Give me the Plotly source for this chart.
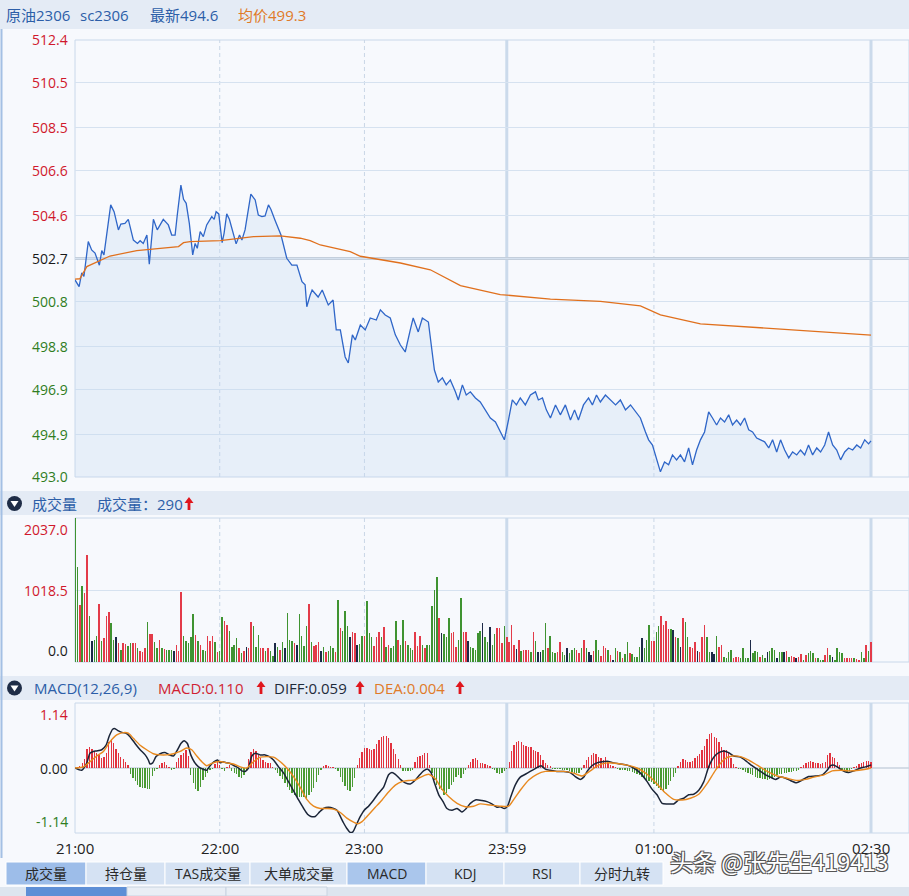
import plotly.graph_objects as go

W, H = 909, 896
def px(x): return x / W
def py(y): return 1 - y / H

FONT = "Open Sans, Noto Sans CJK SC, sans-serif"

# ---------------- data ----------------
TIME_TICKS = [0, 60, 120, 179, 240, 330]
TIME_LABELS = ["21:00", "22:00", "23:00", "23:59", "01:00", "02:30"]
PRICE_TICKS = [512.4, 510.5, 508.5, 506.6, 504.6, 502.7, 500.8, 498.8, 496.9, 494.9, 493.0]
PREV_SETTLE = 502.7
VOL_TICKS = [2037.0, 1018.5, 0.0]
MACD_TICKS = [1.14, 0.00, -1.14]
LAST_MINUTE = 330

PRICE_POINTS = [
    (0, 501.75), (1.7, 501.45), (2.8, 502.06), (3.7, 501.9), (5.5, 503.45), (6.9, 503.08), (8.3, 502.94),
    (10.1, 502.4), (11.1, 503.05), (12, 502.86), (14.8, 505.08), (16.2, 504.78), (18, 503.97), (19, 504.23),
    (20.7, 504.26), (22.1, 504.44), (24.2, 503.52), (25.9, 503.37), (27, 503.49), (28.3, 503.37), (29.8, 503.74),
    (30.8, 502.45), (32.5, 504.44), (34.1, 503.97), (36.6, 504.44), (38.7, 504.19), (40.1, 503.74), (41.5, 503.74),
    (42.4, 504.63), (43.9, 505.96), (45, 505.33), (46.1, 505.15), (47.4, 504.26), (48.8, 502.86), (49.8, 503.37),
    (50.7, 503.15), (51.9, 503.89), (53.2, 503.67), (54.6, 504.19), (56.7, 504.56), (57.7, 504.44), (58.5, 504.78),
    (59.6, 504.68), (61, 503.40), (61.8, 503.82), (62.9, 504.68), (64, 504.44), (65.4, 503.89), (66.8, 503.35),
    (68.2, 503.74), (69.2, 503.52), (70.5, 503.97), (72.9, 505.56), (74.7, 505.30), (76, 504.63), (77.5, 504.56),
    (78.8, 504.59), (80.2, 505.08), (81.2, 504.89), (83, 504.38), (84.4, 504.0), (85.4, 503.74), (87.8, 502.71),
    (89.9, 502.41), (92, 502.41), (94.1, 501.67), (95.4, 501.53), (96.1, 500.56), (97.5, 501.08),
    (98.3, 501.30), (100.8, 500.99), (102.5, 501.30), (105.0, 500.64), (107.0, 500.86), (108.3, 499.53),
    (110.0, 499.53), (112.0, 498.33), (113.3, 498.06), (115.0, 499.31), (116.2, 499.08), (118.3, 499.75),
    (120.3, 499.53), (122.4, 500.06), (124.9, 499.97), (126.6, 500.42), (128.6, 500.19), (130.7, 500.06),
    (132.8, 499.31), (134.9, 498.86), (136.9, 498.55), (139.0, 499.53), (140.2, 500.06), (142.3, 499.44),
    (144.0, 500.06), (146.5, 499.88), (147.7, 498.86), (149.0, 497.75), (150.6, 497.22), (152.3, 497.40),
    (153.9, 497.09), (155.6, 497.31), (157.7, 496.78), (158.9, 496.42), (160.6, 497.09), (162.2, 496.64),
    (163.9, 496.78), (166.0, 496.51), (168.0, 496.33), (170.1, 495.98), (172.2, 495.62), (174.3, 495.44),
    (176.3, 495.00), (178.0, 494.65), (179.7, 495.53), (181.3, 496.42), (183.0, 496.20), (184.6, 496.51),
    (186.7, 496.20), (188.8, 496.64), (190.9, 496.78), (192.1, 496.42), (193.8, 496.51), (195.4, 495.98),
    (197.1, 495.62), (199.2, 496.20), (201.2, 495.76), (203.3, 496.20), (205.4, 495.53), (207.1, 495.98),
    (208.7, 495.53), (210.8, 496.20), (212.9, 496.51), (214.5, 496.20), (216.2, 496.64), (217.8, 496.33),
    (219.9, 496.64), (222.0, 496.42), (224.1, 496.20), (226.1, 496.42), (228.2, 495.98), (230.3, 496.20),
    (232.4, 495.89), (234.4, 495.62), (236.5, 495.00), (237.8, 494.65), (239.4, 494.42), (241.1, 493.85),
    (242.7, 493.23), (244.4, 493.67), (246.1, 493.54), (247.7, 493.98), (249.4, 493.76), (251.0, 493.98),
    (252.7, 493.67), (254.4, 494.29), (256.0, 493.54), (257.7, 494.20), (259.3, 494.65), (261.0, 495.00),
    (262.7, 495.89), (264.3, 495.62), (266.0, 495.31), (267.6, 495.62), (269.3, 495.44), (271.0, 495.76),
    (272.6, 495.31), (274.3, 495.53), (275.9, 495.31), (277.6, 495.62), (279.3, 495.09), (280.9, 495.00),
    (282.6, 494.73), (284.2, 494.65), (285.9, 494.56), (287.6, 494.29), (289.2, 494.65), (290.9, 494.11),
    (292.5, 494.65), (294.2, 494.20), (295.9, 493.85), (297.5, 494.11), (299.2, 493.98), (300.8, 494.20),
    (302.5, 493.98), (304.1, 494.42), (305.8, 493.98), (307.5, 494.29), (309.1, 494.11), (310.8, 494.42),
    (312.4, 495.00), (314.1, 494.42), (315.8, 494.20), (317.4, 493.76), (319.1, 494.11), (320.7, 494.29),
    (322.4, 494.20), (324.1, 494.42), (325.7, 494.29), (327.4, 494.65), (329.0, 494.47), (330.0, 494.60),
]

AVG_POINTS = [
    (0, 501.78), (2, 501.8), (4.9, 502.34), (8, 502.5), (14.5, 502.81), (25.6, 503.05), (42.9, 503.23),
    (45, 503.4), (47.7, 503.45), (60.2, 503.49), (74, 503.67), (85.1, 503.70), (93.4, 503.6), (97.5, 503.49),
    (101.7, 503.3), (114.1, 503.0), (118.3, 502.8), (134.9, 502.5), (147.3, 502.2), (159.8, 501.5),
    (176.3, 501.1), (197.1, 500.9), (217.8, 500.8), (234.4, 500.6), (242.7, 500.2), (259.3, 499.8),
    (280.1, 499.65), (300.8, 499.5), (330, 499.3),
]

VOLUME = [
    2037, 1340, 800, 1075, 970, 1520, 650, 300, 306, 368,
    815, 300, 335, 655, 712, 550, 310, 350, 265, 170,
    265, 250, 230, 265, 265, 265, 195, 155, 135, 195,
    560, 390, 390, 280, 195, 310, 195, 180, 170, 170,
    170, 155, 240, 155, 985, 370, 300, 265, 350, 675,
    380, 300, 240, 170, 155, 370, 300, 370, 280, 135,
    155, 630, 580, 530, 440, 210, 240, 335, 195, 125,
    155, 210, 195, 560, 510, 210, 380, 195, 195, 155,
    195, 155, 85, 265, 210, 170, 280, 195, 700, 310,
    300, 265, 240, 675, 370, 225, 510, 815, 280, 225,
    240, 280, 155, 210, 135, 155, 225, 195, 145, 875,
    475, 445, 720, 510, 350, 420, 405, 240, 255, 370,
    370, 860, 405, 350, 225, 350, 420, 350, 490, 210,
    240, 195, 225, 580, 310, 240, 595, 300, 240, 195,
    170, 420, 225, 370, 240, 195, 240, 240, 795, 1018,
    1200, 620, 405, 390, 350, 620, 405, 420, 210, 310,
    900, 420, 420, 300, 210, 195, 170, 405,
    440, 550, 350, 280, 490, 240, 390, 475, 475, 265,
    510, 350, 280, 530, 240, 180, 310, 155, 170, 170,
    170, 135, 420, 300, 145, 145, 170, 550, 195, 370,
    135, 125, 135, 280, 135, 100, 195, 125, 170, 205,
    170, 125, 195, 310, 205, 135, 100, 155, 310, 170,
    90, 225, 195, 170, 100, 30, 195, 155, 145, 50,
    110, 280, 125, 110, 75, 75, 210, 335, 195, 310,
    530, 300, 300, 420, 510, 650, 530, 580, 465, 465,
    450, 350, 335, 210, 620, 570, 350, 210, 195, 280,
    155, 135, 350, 530, 350, 145, 145, 110, 370, 210,
    240, 75, 60, 135, 170, 60, 75, 75, 60, 195,
    60, 60, 310, 125, 155, 135, 75, 100, 60, 135,
    155, 195, 170, 60, 135, 135, 135, 155, 75, 90,
    75, 60, 75, 110, 30, 100, 125, 155, 125, 60,
    60, 30, 30, 100, 205, 100, 75, 30, 195, 145,
    125, 50, 60, 60, 60, 60, 40, 30, 135, 60,
    240, 155, 290,
]
# R = up (red), G = down (green), D = flat (dark)
VOLUME_DIR = (
    "GGRGRRGDGG" "RGRRRGGDRG" "RRGGRRGRRR" "GRRGGRGRGG" "GDRRRGGGGG" "RGRGGRRRGR"
    "GGRRGGGGRG" "RDRRGGGRRG" "RGGDGRGDGG" "GRDGGGGRGR" "RRDGRGGGRG" "RGGGDRRDGG"
    "RGGGRRRGRG" "RGGGRGGRGG" "GRRRGRGGGG" "GRDGGGRRRG" "GRRDGGGG"
    "GDGGDGGRRR" "GRRRRDRGRR" "RGRGDDGGRG" "GGRRGGDGGG" "RRGRGDDRGG" "RRRGRDGRGR"
    "GGRGGGGDGG" "GRRGGRRRRG" "DRGDRGGRRR" "DRRRGGDDGR" "RGGGGRRRGG" "GGDGGGRGGD"
    "GGGDGGDRGR" "RDRRGRGGGR" "GGGRRGDGGG" "GRRRRGRRGG" "RGR"
)

MACD_HIST = [
    0.0, 0.02, 0.04, 0.08, 0.15, 0.34, 0.36, 0.33, 0.30, 0.27, 0.22, 0.17, 0.20, 0.27, 0.46, 0.50, 0.44, 0.34,
    0.27, 0.20, 0.15, 0.10, 0.05,
    -0.10, -0.17, -0.23, -0.29, -0.33, -0.35, -0.35, -0.36, -0.37, -0.14, -0.05, -0.01,
    0.05, 0.09, 0.11, 0.05, 0.01, -0.04, -0.01,
    0.10, 0.17, 0.23, 0.27, 0.32, 0.21,
    -0.12, -0.27, -0.36, -0.40, -0.34, -0.21, -0.15, -0.09, -0.04, -0.01,
    0.07, 0.11, 0.05, -0.02, -0.05, 0.02, 0.05,
    -0.05, -0.08, -0.11, -0.16, -0.18, -0.13, -0.06,
    0.15, 0.28, 0.33, 0.30, 0.22, 0.18, 0.14, 0.10, 0.09, 0.08, 0.02,
    -0.03, -0.08, -0.14, -0.20, -0.26, -0.33, -0.39, -0.44, -0.48, -0.50, -0.51, -0.50, -0.51, -0.53, -0.48,
    -0.42, -0.35, -0.25, -0.12, -0.03,
    0.04, 0.05, 0.03, 0.01, 0.01,
    -0.02, -0.06, -0.15, -0.24, -0.32, -0.39, -0.40, -0.34, -0.18,
    0.06, 0.18, 0.28, 0.35, 0.35, 0.33, 0.31, 0.34, 0.42, 0.49, 0.55, 0.56, 0.56, 0.52, 0.44, 0.34, 0.25, 0.15, 0.06,
    -0.06, -0.06, -0.05, -0.06, -0.04,
    0.10, 0.19, 0.21, 0.23, 0.26, 0.27, 0.05,
    -0.09, -0.21, -0.30, -0.36, -0.39, -0.47, -0.44, -0.36, -0.30, -0.24, -0.16, -0.12, -0.18, -0.11, -0.04,
    0.06, 0.11, 0.15, 0.17, 0.14, 0.09, 0.08, 0.07, 0.05, 0.03,
    -0.02, -0.04, -0.08, -0.10, -0.09, -0.05, -0.02,
    0.10, 0.30, 0.40, 0.46, 0.48, 0.46, 0.41, 0.39, 0.37, 0.36, 0.32, 0.29, 0.28, 0.22, 0.14, 0.08, 0.05, 0.03,
    -0.01, -0.01, -0.02, -0.02, -0.03, -0.03, -0.04, -0.05, -0.07, -0.08, -0.09, -0.08, -0.04,
    0.06, 0.14, 0.19, 0.23, 0.26, 0.25, 0.20, 0.17, 0.14, 0.19, 0.11, 0.05, 0.03, 0.01,
    -0.02, -0.03, -0.03, -0.04, -0.05, -0.06, -0.07, -0.09, -0.10, -0.13, -0.15, -0.18, -0.21, -0.23, -0.25,
    -0.28, -0.31, -0.35, -0.39, -0.42, -0.37, -0.30, -0.22, -0.15, -0.08,
    0.04, 0.10, 0.15, 0.14, 0.11, 0.10, 0.13, 0.17, 0.21, 0.25, 0.32, 0.38, 0.50, 0.60, 0.61, 0.54, 0.52, 0.45,
    0.37, 0.32, 0.31, 0.27, 0.18, 0.07, 0.02,
    -0.01, -0.02, -0.04, -0.07, -0.09, -0.11, -0.12, -0.15, -0.17, -0.18, -0.19, -0.20, -0.21, -0.20, -0.18,
    -0.16, -0.13, -0.11, -0.10, -0.08, -0.08, -0.07, -0.07, -0.06, -0.05, -0.04,
    0.02, 0.05, 0.08, 0.11, 0.12, 0.10, 0.09, 0.08, 0.07, 0.08, 0.10, 0.23, 0.26, 0.20, 0.17, 0.11, 0.05,
    -0.03, -0.06, -0.07, -0.05, -0.02,
    0.02, 0.04, 0.07, 0.09, 0.11, 0.12, 0.12, 0.11,
]

DIFF_POINTS = [
    (0, 0), (2.8, -0.04), (4.8, 0.08), (6.2, 0.26), (7.6, 0.29), (9, 0.30), (11.1, 0.32), (12.9, 0.40),
    (14.2, 0.56), (15.6, 0.68), (16.6, 0.69), (18, 0.65), (19.8, 0.62), (21.2, 0.61), (22.8, 0.55), (24.9, 0.43),
    (27, 0.32), (29.1, 0.23), (30.4, 0.14), (31.1, 0.07), (32.2, 0.09), (33.6, 0.20), (35.3, 0.25), (37.3, 0.27),
    (39.1, 0.23), (40.8, 0.21), (42.5, 0.32), (43.9, 0.43), (45.2, 0.48), (46.6, 0.43), (48, 0.23), (49.4, 0.11),
    (51.2, 0.02), (53, -0.02), (54.6, -0.04), (56, 0.04), (57.7, 0.11), (59.1, 0.14), (60.2, 0.09), (61.3, 0.11),
    (62.9, 0.09), (64.3, 0.08), (66, 0.04), (67.8, 0.0), (69.2, -0.05), (70.5, -0.06), (71.9, 0.0), (73.3, 0.21),
    (74.7, 0.26), (76.8, 0.23), (78.8, 0.23), (80.6, 0.20), (82.3, 0.14), (84.4, 0.02), (86.5, -0.09),
    (88.5, -0.24), (90.6, -0.40), (92.7, -0.56), (94.8, -0.71), (96.4, -0.81), (97.8, -0.85), (99.6, -0.85),
    (101.4, -0.77), (103, -0.71), (105.1, -0.69), (107.2, -0.71), (108.6, -0.74), (110, -0.85), (111.3, -0.96),
    (112.7, -1.06), (114.1, -1.13), (115.2, -1.12), (116.6, -1.0), (118.3, -0.85), (119.9, -0.74),
    (121.7, -0.67), (123.8, -0.56), (125.9, -0.44), (127.9, -0.34), (130, -0.12), (131.4, -0.08),
    (132.8, -0.11), (134.9, -0.20), (136.9, -0.26), (139, -0.28), (141.1, -0.21), (142.9, -0.12),
    (144.5, -0.05), (146.2, -0.02), (147.6, -0.08), (149, -0.26), (150.8, -0.47), (152.6, -0.59),
    (154.2, -0.71), (156.3, -0.74), (158.4, -0.71), (160.4, -0.77), (162.2, -0.71), (163.9, -0.62),
    (166, -0.56), (168.7, -0.57), (170.8, -0.59), (172.8, -0.63), (174.9, -0.69), (176.3, -0.68),
    (178, -0.71), (179.3, -0.67), (180.7, -0.50), (182.5, -0.30), (184.6, -0.16), (186.7, -0.11),
    (188.7, -0.06), (190.8, -0.01), (193.2, 0.04), (195, -0.02), (197, -0.04), (199.8, -0.06), (202.6, -0.06),
    (205.3, -0.08), (207.4, -0.15), (209.5, -0.20), (210.9, -0.16), (212.3, -0.06), (214.3, 0.04),
    (216.4, 0.09), (218.5, 0.11), (220.6, 0.12), (223.3, 0.09), (226.1, 0.07), (228.9, 0.05), (231.6, 0.0),
    (234.4, -0.09), (237.2, -0.24), (239.2, -0.37), (241.3, -0.47), (243.4, -0.62), (245.5, -0.63),
    (248.2, -0.63), (250.3, -0.56), (252.4, -0.53), (254.4, -0.47), (256.5, -0.46), (258.6, -0.39),
    (260.7, -0.24), (262.7, 0.02), (264.8, 0.19), (266.9, 0.27), (269, 0.30), (271, 0.27), (273.1, 0.21),
    (275.9, 0.19), (278.6, 0.11), (280.7, 0.04), (283.5, -0.04), (286.3, -0.12), (288.3, -0.16),
    (290.4, -0.20), (292.5, -0.16), (294.6, -0.18), (296.6, -0.22), (299.1, -0.26), (301.5, -0.21),
    (304.2, -0.15), (307, -0.14), (309.8, -0.12), (311.8, -0.04), (313.2, 0.04), (314.7, 0.05), (316.7, 0.0),
    (318.8, -0.06), (320.8, -0.08), (322.9, -0.05), (325.7, 0.0), (327.7, 0.02), (329.8, 0.05), (330, 0.059),
]

DEA_POINTS = [
    (0, 0), (3.5, 0.02), (6.2, 0.11), (9, 0.21), (11.8, 0.29), (14.5, 0.46), (17.3, 0.58), (20.1, 0.62),
    (22.1, 0.61), (24.2, 0.52), (27, 0.40), (29.7, 0.32), (32.5, 0.25), (35.3, 0.23), (38, 0.23), (40.8, 0.25),
    (43.6, 0.29), (46.3, 0.35), (48.4, 0.32), (50.5, 0.21), (52.6, 0.11), (54.6, 0.04), (56.7, 0.08),
    (58.8, 0.11), (60.9, 0.11), (62.9, 0.09), (65.7, 0.07), (68.5, 0.02), (71.2, 0.0), (74, 0.11), (76.8, 0.19),
    (79.5, 0.20), (82.3, 0.19), (85.1, 0.11), (87.8, 0.0), (90.6, -0.15), (93.4, -0.34), (96.1, -0.55),
    (98.9, -0.67), (101.7, -0.71), (104.4, -0.71), (107.2, -0.72), (110, -0.78), (112.7, -0.88), (115.5, -0.95),
    (117.2, -0.98), (119, -0.94), (121.7, -0.82), (124.5, -0.69), (127.3, -0.56), (130, -0.42), (132.8, -0.30),
    (135.5, -0.24), (138.3, -0.22), (141.1, -0.21), (143.8, -0.15), (146.6, -0.11), (149.4, -0.19),
    (152.1, -0.37), (154.9, -0.50), (158.4, -0.62), (161.8, -0.68), (165.3, -0.67), (168, -0.63),
    (172.1, -0.65), (176.3, -0.67), (179.8, -0.67), (181.8, -0.56), (184.6, -0.39), (188.1, -0.21),
    (191.5, -0.11), (195, -0.06), (198.4, -0.06), (202.6, -0.06), (206.7, -0.09), (210.2, -0.14),
    (213.6, -0.05), (217.1, 0.05), (220.6, 0.09), (224.7, 0.08), (228.9, 0.05), (233, 0.0), (237.2, -0.11),
    (241.3, -0.28), (244.8, -0.44), (248.2, -0.55), (251.7, -0.56), (255.1, -0.53), (258.6, -0.46),
    (262.1, -0.27), (265.5, -0.04), (269, 0.15), (272.4, 0.21), (275.9, 0.20), (279.3, 0.14), (282.8, 0.05),
    (287, -0.06), (291.1, -0.14), (295.2, -0.18), (299.4, -0.22), (302.9, -0.20), (306.3, -0.16),
    (310.5, -0.12), (313.9, -0.05), (317.4, -0.04), (320.8, -0.05), (325, -0.04), (329.8, 0.0), (330, 0.004),
]

TAB_LABELS = ["成交量", "持仓量", "TAS成交量", "大单成交量", "MACD", "KDJ", "RSI", "分时九转"]

# ---------------- styling ----------------
BG = "#f7f9fd"
HEADER_BG = "#e4ebf5"
GRID = "#d6e2f0"
BORDER = "#c9d8ea"
RED = "#d0182c"
GREEN = "#2f7d22"
BLUE_TXT = "#2c5ea8"
ORANGE = "#e07a28"
X_END = LAST_MINUTE * (909 - 75) / (871 - 75)

fig = go.Figure()

pt = [p[0] for p in PRICE_POINTS]
pv = [p[1] for p in PRICE_POINTS]
fig.add_trace(go.Scatter(x=pt, y=pv, mode="lines", line=dict(color="#2f66c8", width=1.3),
                         fill="tozeroy", fillcolor="rgba(196,214,242,0.30)", xaxis="x", yaxis="y",
                         hoverinfo="skip"))
fig.add_trace(go.Scatter(x=[p[0] for p in AVG_POINTS], y=[p[1] for p in AVG_POINTS], mode="lines",
                         line=dict(color="#e0701d", width=1.3), xaxis="x", yaxis="y", hoverinfo="skip"))

vol_color_map = {"R": "#e33b49", "G": "#3f9331", "D": "#1d2a48"}
fig.add_trace(go.Bar(x=list(range(len(VOLUME))), y=VOLUME,
                     marker=dict(color=[vol_color_map[c] for c in VOLUME_DIR[:len(VOLUME)]], line=dict(width=0)),
                     width=0.62, xaxis="x2", yaxis="y2", hoverinfo="skip"))

fig.add_trace(go.Bar(x=list(range(len(MACD_HIST))), y=MACD_HIST,
                     marker=dict(color=["#e2333f" if v >= 0 else "#4a9a33" for v in MACD_HIST], line=dict(width=0)),
                     width=0.55, xaxis="x3", yaxis="y3", hoverinfo="skip"))
fig.add_trace(go.Scatter(x=[p[0] for p in DIFF_POINTS], y=[p[1] for p in DIFF_POINTS], mode="lines",
                         line=dict(color="#1b2538", width=1.5, shape="spline", smoothing=0.6),
                         xaxis="x3", yaxis="y3", hoverinfo="skip"))
fig.add_trace(go.Scatter(x=[p[0] for p in DEA_POINTS], y=[p[1] for p in DEA_POINTS], mode="lines",
                         line=dict(color="#e8891f", width=1.4, shape="spline", smoothing=0.6),
                         xaxis="x3", yaxis="y3", hoverinfo="skip"))

xcommon = dict(domain=[px(75), 1.0], range=[0, X_END], showgrid=False, zeroline=False,
               showticklabels=False, showline=False, fixedrange=True)
layout = dict(
    width=W, height=H, margin=dict(l=0, r=0, t=0, b=0),
    paper_bgcolor=BG, plot_bgcolor=BG, showlegend=False, bargap=0,
    font=dict(family=FONT, size=14, color="#222"),
    xaxis=dict(anchor="y", **xcommon),
    xaxis2=dict(anchor="y2", **xcommon),
    xaxis3=dict(anchor="y3", **xcommon),
    yaxis=dict(anchor="x", domain=[py(477), py(40)], range=[PRICE_TICKS[-1], PRICE_TICKS[0]],
               tickvals=PRICE_TICKS, showticklabels=False, showgrid=True, gridcolor=GRID, gridwidth=1,
               zeroline=False, fixedrange=True),
    yaxis2=dict(anchor="x2", domain=[py(662), py(518)], range=[0, VOL_TICKS[0]],
                tickvals=[VOL_TICKS[1]], showticklabels=False, showgrid=True, gridcolor=GRID,
                zeroline=False, fixedrange=True),
    yaxis3=dict(anchor="x3", domain=[py(833), py(703)], range=[MACD_TICKS[2], MACD_TICKS[0]],
                showticklabels=False, showgrid=False, zeroline=False, fixedrange=True),
)

shapes = []
ann = []

def prect(x0, y0, x1, y1, fill, line_color=None, lw=0, layer="below"):
    shapes.append(dict(type="rect", xref="paper", yref="paper", x0=px(x0), x1=px(x1), y0=py(y1), y1=py(y0),
                       fillcolor=fill, line=dict(color=line_color or fill, width=lw), layer=layer))

def ptext(x, y, text, color, size=15, anchor="left", family=FONT):
    ann.append(dict(xref="paper", yref="paper", x=px(x), y=py(y), text=text, showarrow=False,
                    xanchor=anchor, yanchor="middle", font=dict(size=size, color=color, family=family)))

def path_shape(points, fill):
    d = "M " + " L ".join(f"{px(a):.5f},{py(b):.5f}" for a, b in points) + " Z"
    shapes.append(dict(type="path", xref="paper", yref="paper", path=d, fillcolor=fill,
                       line=dict(width=0), layer="above"))

def up_arrow(cx, top):
    path_shape([(cx, top), (cx + 4.5, top + 6), (cx + 1.4, top + 6), (cx + 1.4, top + 13),
                (cx - 1.4, top + 13), (cx - 1.4, top + 6), (cx - 4.5, top + 6)], "#e0161d")

def toggle_icon(cx, cy):
    shapes.append(dict(type="circle", xref="paper", yref="paper", x0=px(cx - 7.5), x1=px(cx + 7.5),
                       y0=py(cy + 7.5), y1=py(cy - 7.5), fillcolor="#1f2d47", line=dict(width=0), layer="above"))
    path_shape([(cx - 4, cy - 2.5), (cx + 4, cy - 2.5), (cx, cy + 3.5)], "#ffffff")

# header bars
prect(0, 0, 909, 29, HEADER_BG)
prect(0, 491, 909, 515, HEADER_BG)
prect(0, 676, 909, 700, HEADER_BG)

# panel borders, grid extras
for xr, yr in (("x", "y"), ("x2", "y2"), ("x3", "y3")):
    shapes.append(dict(type="rect", xref=f"{xr} domain", yref=f"{yr} domain", x0=0, x1=1, y0=0, y1=1,
                       line=dict(color=BORDER, width=1), fillcolor="rgba(0,0,0,0)", layer="below"))
    for t in TIME_TICKS[1:]:
        solid = t in (179, LAST_MINUTE)
        shapes.append(dict(type="line", xref=xr, yref=f"{yr} domain", x0=t, x1=t, y0=0, y1=1,
                           line=dict(color="#cbdaeb" if solid else "#c9d6e6", width=3 if solid else 1,
                                     dash="solid" if solid else "4px,3px"), layer="below"))

shapes.append(dict(type="line", xref="x domain", yref="y", x0=0, x1=1, y0=PREV_SETTLE, y1=PREV_SETTLE,
                   line=dict(color="#c4cfdc", width=3), layer="below"))
shapes.append(dict(type="line", xref="x3 domain", yref="y3", x0=0, x1=1, y0=0, y1=0,
                   line=dict(color="#c8d2de", width=1.5), layer="below"))

# left window border
shapes.append(dict(type="line", xref="paper", yref="paper", x0=px(1.5), x1=px(1.5), y0=py(29), y1=py(858),
                   line=dict(color="#a4c0e4", width=2), layer="above"))

# top header texts
ptext(4, 15, "原油2306", BLUE_TXT)
ptext(78, 15, "sc2306", BLUE_TXT)
ptext(148, 15, "最新494.6", BLUE_TXT)
ptext(236, 15, "均价499.3", ORANGE)

# volume header
toggle_icon(14.5, 503.5)
ptext(30, 504, "成交量", BLUE_TXT)
ptext(95, 504, "成交量：290", BLUE_TXT)
up_arrow(189, 497)

# MACD header
toggle_icon(14.5, 688)
ptext(32, 688, "MACD(12,26,9)", BLUE_TXT)
ptext(156, 688, "MACD:0.110", "#d01f33")
up_arrow(261, 681)
ptext(272, 688, "DIFF:0.059", "#1e2a3a")
up_arrow(360, 681)
ptext(372, 688, "DEA:0.004", ORANGE)
up_arrow(460, 681)

# price axis labels
for v in PRICE_TICKS:
    col = RED if v > PREV_SETTLE else ("#1a1a1a" if v == PREV_SETTLE else GREEN)
    ann.append(dict(xref="paper", yref="y", x=px(70), y=v, text=f"{v:.1f}", showarrow=False,
                    xanchor="right", yanchor="middle", font=dict(size=14, color=col)))

# volume labels
for v, ya, col in zip(VOL_TICKS, ("top", "middle", "bottom"), (RED, RED, "#1a1a1a")):
    ann.append(dict(xref="paper", yref="y2", x=px(70), y=v, text=f"{v:.1f}", showarrow=False,
                    xanchor="right", yanchor=ya, font=dict(size=14, color=col)))

# MACD labels
for v, ya, col in zip(MACD_TICKS, ("top", "middle", "bottom"), (RED, "#1a1a1a", GREEN)):
    ann.append(dict(xref="paper", yref="y3", x=px(70), y=v, text=f"{v:.2f}", showarrow=False,
                    xanchor="right", yanchor=ya, font=dict(size=14, color=col)))

# time labels
for t, lab in zip(TIME_TICKS, TIME_LABELS):
    ann.append(dict(xref="x3", yref="paper", x=t, y=py(848), text=lab, showarrow=False,
                    xanchor="center", yanchor="middle", font=dict(size=15, color="#222")))

# bottom tabs
edges = [6, 86, 165, 250, 347, 426, 504, 580, 663]
for i, lab in enumerate(TAB_LABELS):
    fill = "#9dbde9" if i == 0 else ("#aac6ec" if lab == "MACD" else "#d5e2f3")
    prect(edges[i], 862, edges[i + 1], 885, fill, "#ffffff", 1)
    ptext((edges[i] + edges[i + 1]) / 2, 873.5, lab, "#2a2a2a", size=14, anchor="center")

prect(0, 887, 909, 896, "#dde5ef")
prect(26, 887, 127, 896, "#5e8fd6")
prect(127, 887, 226, 896, "#e9eef5", "#c8d3e0", 1)
prect(226, 887, 327, 896, "#e9eef5", "#c8d3e0", 1)

# watermark
ann.append(dict(xref="paper", yref="paper", x=px(779), y=py(861), text="头条 @张先生419413", showarrow=False,
                xanchor="center", yanchor="middle",
                font=dict(size=23, color="#ffffff", family="Noto Sans CJK SC, sans-serif",
                          shadow="1px 1px 0 #555, -1px -1px 0 #555, 1px -1px 0 #555, -1px 1px 0 #555")))

layout["shapes"] = shapes
layout["annotations"] = ann
fig.update_layout(**layout)
fig.write_html("out.html", config={"displayModeBar": False, "staticPlot": True},
               post_script="document.body.style.margin='0';document.body.style.overflow='hidden';")
